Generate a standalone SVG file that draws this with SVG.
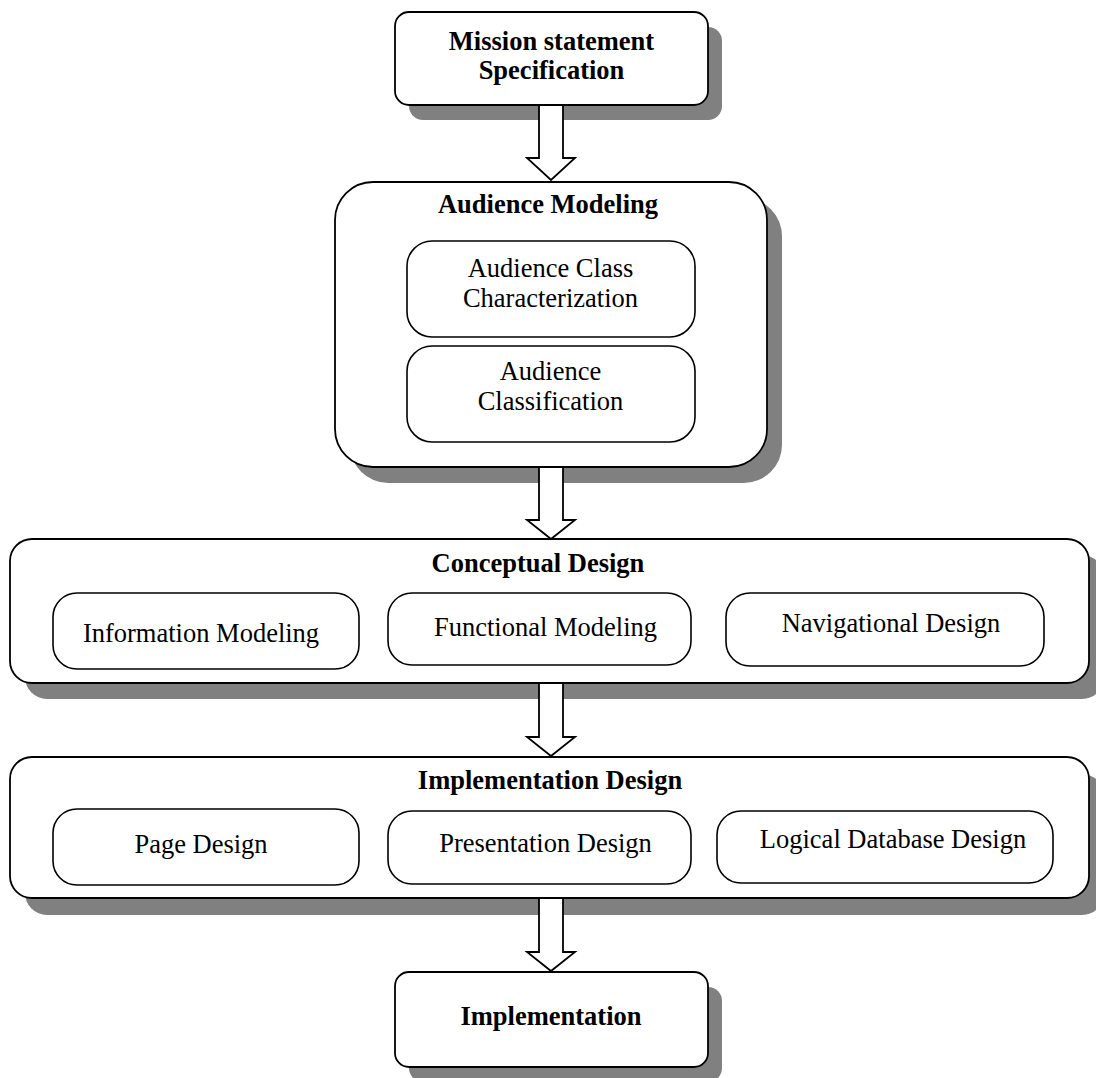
<svg xmlns="http://www.w3.org/2000/svg" width="1096" height="1078" viewBox="0 0 1096 1078">
  <style>
    .shadow { fill: #808080; stroke: none; }
    .box { fill: #ffffff; stroke: #000000; stroke-width: 1.8; }
    .inner { fill: #ffffff; stroke: #000000; stroke-width: 1.6; }
    .title { font-family: "Liberation Serif", "Times New Roman", serif; font-size: 26.5px; font-weight: bold; fill: #000; text-anchor: middle; }
    .label { font-family: "Liberation Serif", "Times New Roman", serif; font-size: 26.5px; fill: #000; text-anchor: middle; }
    .arrow { fill: #ffffff; stroke: #000000; stroke-width: 1.8; stroke-linejoin: miter; }
  </style>
  <rect width="1096" height="1078" fill="#ffffff"/>

  <!-- Mission statement -->
  <g id="mission">
    <rect class="shadow" x="409" y="27" width="313" height="93" rx="14"/>
    <rect class="box" x="395" y="12" width="313" height="93" rx="14"/>
    <text class="title" x="551.5" y="50">Mission statement</text>
    <text class="title" x="551.5" y="79">Specification</text>
  </g>

  <!-- Audience modeling -->
  <g id="audience-modeling">
    <rect class="shadow" x="350" y="198" width="432" height="285" rx="38"/>
    <rect class="box" x="335" y="182" width="432" height="285" rx="38"/>
    <text class="title" x="548" y="213">Audience Modeling</text>
  </g>
  <g id="audience-class-characterization">
    <rect class="inner" x="407" y="241" width="288" height="96" rx="25"/>
    <text class="label" x="550.5" y="277">Audience Class</text>
    <text class="label" x="550.5" y="307">Characterization</text>
  </g>
  <g id="audience-classification">
    <rect class="inner" x="407" y="346" width="288" height="96" rx="25"/>
    <text class="label" x="550.5" y="380">Audience</text>
    <text class="label" x="550.5" y="410">Classification</text>
  </g>

  <!-- Conceptual design -->
  <g id="conceptual-design">
    <rect class="shadow" x="25" y="555" width="1079" height="144" rx="22"/>
    <rect class="box" x="10" y="539" width="1079" height="144" rx="22"/>
    <text class="title" x="538" y="572">Conceptual Design</text>
  </g>
  <g id="information-modeling">
    <rect class="inner" x="53" y="593" width="306" height="76" rx="24"/>
    <text class="label" x="201" y="642">Information Modeling</text>
  </g>
  <g id="functional-modeling">
    <rect class="inner" x="388" y="593" width="303" height="72" rx="24"/>
    <text class="label" x="545.5" y="636">Functional Modeling</text>
  </g>
  <g id="navigational-design">
    <rect class="inner" x="726" y="593" width="318" height="73" rx="24"/>
    <text class="label" x="891" y="632">Navigational Design</text>
  </g>

  <!-- Implementation design -->
  <g id="implementation-design">
    <rect class="shadow" x="25" y="774" width="1079" height="141" rx="22"/>
    <rect class="box" x="10" y="757" width="1079" height="141" rx="22"/>
    <text class="title" x="550" y="789">Implementation Design</text>
  </g>
  <g id="page-design">
    <rect class="inner" x="53" y="809" width="306" height="76" rx="24"/>
    <text class="label" x="201" y="853">Page Design</text>
  </g>
  <g id="presentation-design">
    <rect class="inner" x="388" y="811" width="303" height="73" rx="24"/>
    <text class="label" x="545.5" y="852">Presentation Design</text>
  </g>
  <g id="logical-database-design">
    <rect class="inner" x="717" y="811" width="336" height="72" rx="24"/>
    <text class="label" x="893" y="848">Logical Database Design</text>
  </g>

  <!-- Implementation -->
  <g id="implementation">
    <rect class="shadow" x="409" y="987" width="313" height="95" rx="14"/>
    <rect class="box" x="395" y="972" width="313" height="95" rx="14"/>
    <text class="title" x="551" y="1025">Implementation</text>
  </g>

  <!-- Block arrows between stages -->
  <g id="connectors">
    <polygon class="arrow" points="539,105 563,105 563,158 575,158 551,180 527,158 539,158"/>
    <polygon class="arrow" points="539,467 563,467 563,520 575,520 551,539 527,520 539,520"/>
    <polygon class="arrow" points="539,683 563,683 563,737 575,737 551,756 527,737 539,737"/>
    <polygon class="arrow" points="539,898 563,898 563,952 575,952 551,971 527,952 539,952"/>
  </g>
</svg>
